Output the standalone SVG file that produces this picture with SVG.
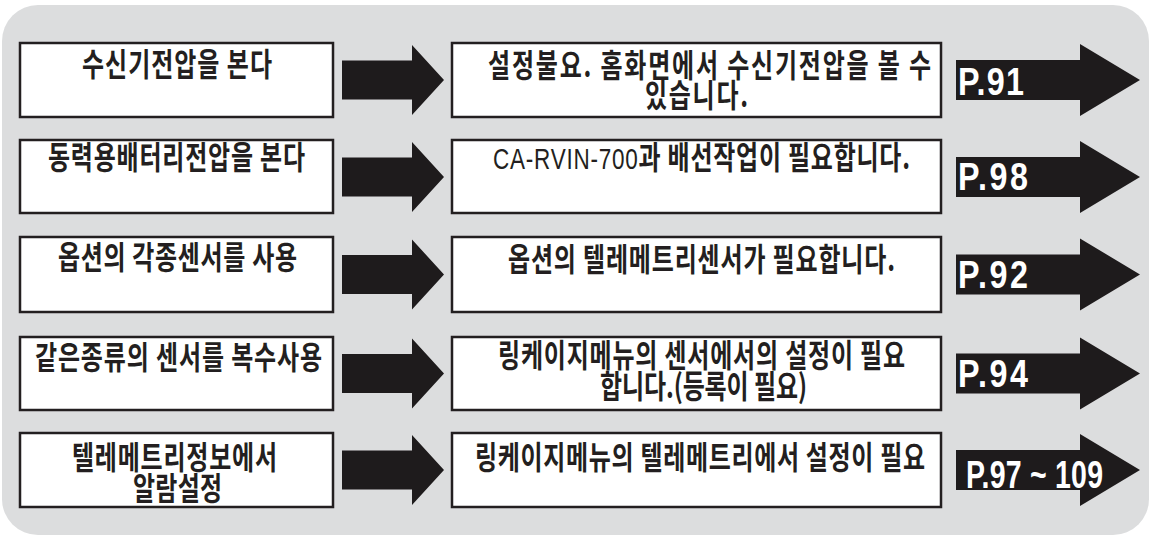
<svg xmlns="http://www.w3.org/2000/svg" xmlns:xlink="http://www.w3.org/1999/xlink" width="1151" height="537" viewBox="0 0 1151 537">
  <style>
    .box { fill: #ffffff; stroke: #231f20; stroke-width: 2.5; }
    .arrow { fill: #1e1b1c; }
    .kt { font-family: "Noto Sans CJK KR", "Noto Sans", sans-serif; font-size: 32px; font-weight: 700; fill: #231f20; }
    .lat { font-family: "Liberation Sans", Arial, sans-serif; font-weight: 400; font-size: 30px; }
    .pg { font-family: "Liberation Sans", Arial, sans-serif; font-size: 38px; font-weight: 700; fill: #ffffff; }
  </style>
  <defs>
    <path id="midArrow" class="arrow" d="M342,-19.5 H412 V-35 L444,0 L412,35 V19.5 H342 Z"/>
    <path id="pageArrow" class="arrow" d="M956,-20 H1080 V-36 L1140,0 L1080,36 V20 H956 Z"/>
  </defs>

  <rect x="2" y="5" width="1147" height="530" rx="36" ry="36" fill="#dcddde"/>

  <g id="connectors">
    <use xlink:href="#midArrow" transform="translate(0,80)"/>
    <use xlink:href="#midArrow" transform="translate(0,177)"/>
    <use xlink:href="#midArrow" transform="translate(0,274.5)"/>
    <use xlink:href="#midArrow" transform="translate(0,373.5)"/>
    <use xlink:href="#midArrow" transform="translate(0,470)"/>
  </g>

  <!-- Row 1 -->
  <g id="cond1">
    <rect class="box" x="20" y="43" width="313" height="74"/>
    <text class="kt" transform="translate(82,76) scale(0.75,1)" textLength="253.3" lengthAdjust="spacing">수신기전압을 본다</text>
  </g>
  <g id="desc1">
    <rect class="box" x="452" y="43" width="489" height="74"/>
    <text class="kt" transform="translate(488,77) scale(0.75,1)" textLength="590.7" lengthAdjust="spacing">설정불요. 홈화면에서 수신기전압을 볼 수</text>
    <text class="kt" transform="translate(645,107) scale(0.75,1)" textLength="137.3" lengthAdjust="spacing">있습니다.</text>
  </g>
  <g id="page1">
    <use xlink:href="#pageArrow" transform="translate(0,80)"/>
    <text class="pg" transform="translate(958,95) scale(0.85,1)" textLength="77.6" lengthAdjust="spacing">P.91</text>
  </g>

  <!-- Row 2 -->
  <g id="cond2">
    <rect class="box" x="20" y="140" width="313" height="73"/>
    <text class="kt" transform="translate(48,169) scale(0.75,1)" textLength="342.7" lengthAdjust="spacing">동력용배터리전압을 본다</text>
  </g>
  <g id="desc2">
    <rect class="box" x="452" y="140" width="489" height="73"/>
    <text class="kt" transform="translate(493,169) scale(0.75,1)" textLength="556" lengthAdjust="spacing"><tspan class="lat">CA-RVIN-700</tspan>과 배선작업이 필요합니다.</text>
  </g>
  <g id="page2">
    <use xlink:href="#pageArrow" transform="translate(0,177)"/>
    <text class="pg" transform="translate(958,190) scale(0.85,1)" textLength="82.4" lengthAdjust="spacing">P.98</text>
  </g>

  <!-- Row 3 -->
  <g id="cond3">
    <rect class="box" x="20" y="237" width="313" height="75"/>
    <text class="kt" transform="translate(58,269) scale(0.75,1)" textLength="318.7" lengthAdjust="spacing">옵션의 각종센서를 사용</text>
  </g>
  <g id="desc3">
    <rect class="box" x="452" y="237" width="489" height="75"/>
    <text class="kt" transform="translate(508,271) scale(0.75,1)" textLength="516" lengthAdjust="spacing">옵션의 텔레메트리센서가 필요합니다.</text>
  </g>
  <g id="page3">
    <use xlink:href="#pageArrow" transform="translate(0,274.5)"/>
    <text class="pg" transform="translate(958,288) scale(0.85,1)" textLength="82.4" lengthAdjust="spacing">P.92</text>
  </g>

  <!-- Row 4 -->
  <g id="cond4">
    <rect class="box" x="20" y="337" width="313" height="73"/>
    <text class="kt" transform="translate(35,369) scale(0.75,1)" textLength="382.7" lengthAdjust="spacing">같은종류의 센서를 복수사용</text>
  </g>
  <g id="desc4">
    <rect class="box" x="452" y="337" width="489" height="73"/>
    <text class="kt" transform="translate(498,367) scale(0.75,1)" textLength="542.7" lengthAdjust="spacing">링케이지메뉴의 센서에서의 설정이 필요</text>
    <text class="kt" transform="translate(600,398) scale(0.75,1)" textLength="276" lengthAdjust="spacing">합니다.(등록이 필요)</text>
  </g>
  <g id="page4">
    <use xlink:href="#pageArrow" transform="translate(0,373.5)"/>
    <text class="pg" transform="translate(958,387) scale(0.85,1)" textLength="82.4" lengthAdjust="spacing">P.94</text>
  </g>

  <!-- Row 5 -->
  <g id="cond5">
    <rect class="box" x="20" y="433" width="313" height="74"/>
    <text class="kt" transform="translate(72,469) scale(0.75,1)" textLength="273.3" lengthAdjust="spacing">텔레메트리정보에서</text>
    <text class="kt" transform="translate(133,500) scale(0.75,1)" textLength="118.7" lengthAdjust="spacing">알람설정</text>
  </g>
  <g id="desc5">
    <rect class="box" x="452" y="433" width="489" height="74"/>
    <text class="kt" transform="translate(475,469) scale(0.75,1)" textLength="600" lengthAdjust="spacing">링케이지메뉴의 텔레메트리에서 설정이 필요</text>
  </g>
  <g id="page5">
    <use xlink:href="#pageArrow" transform="translate(0,470)"/>
    <text class="pg" transform="translate(966,488) scale(0.75,1)" textLength="182.7" lengthAdjust="spacing">P.97 ~ 109</text>
  </g>
</svg>
